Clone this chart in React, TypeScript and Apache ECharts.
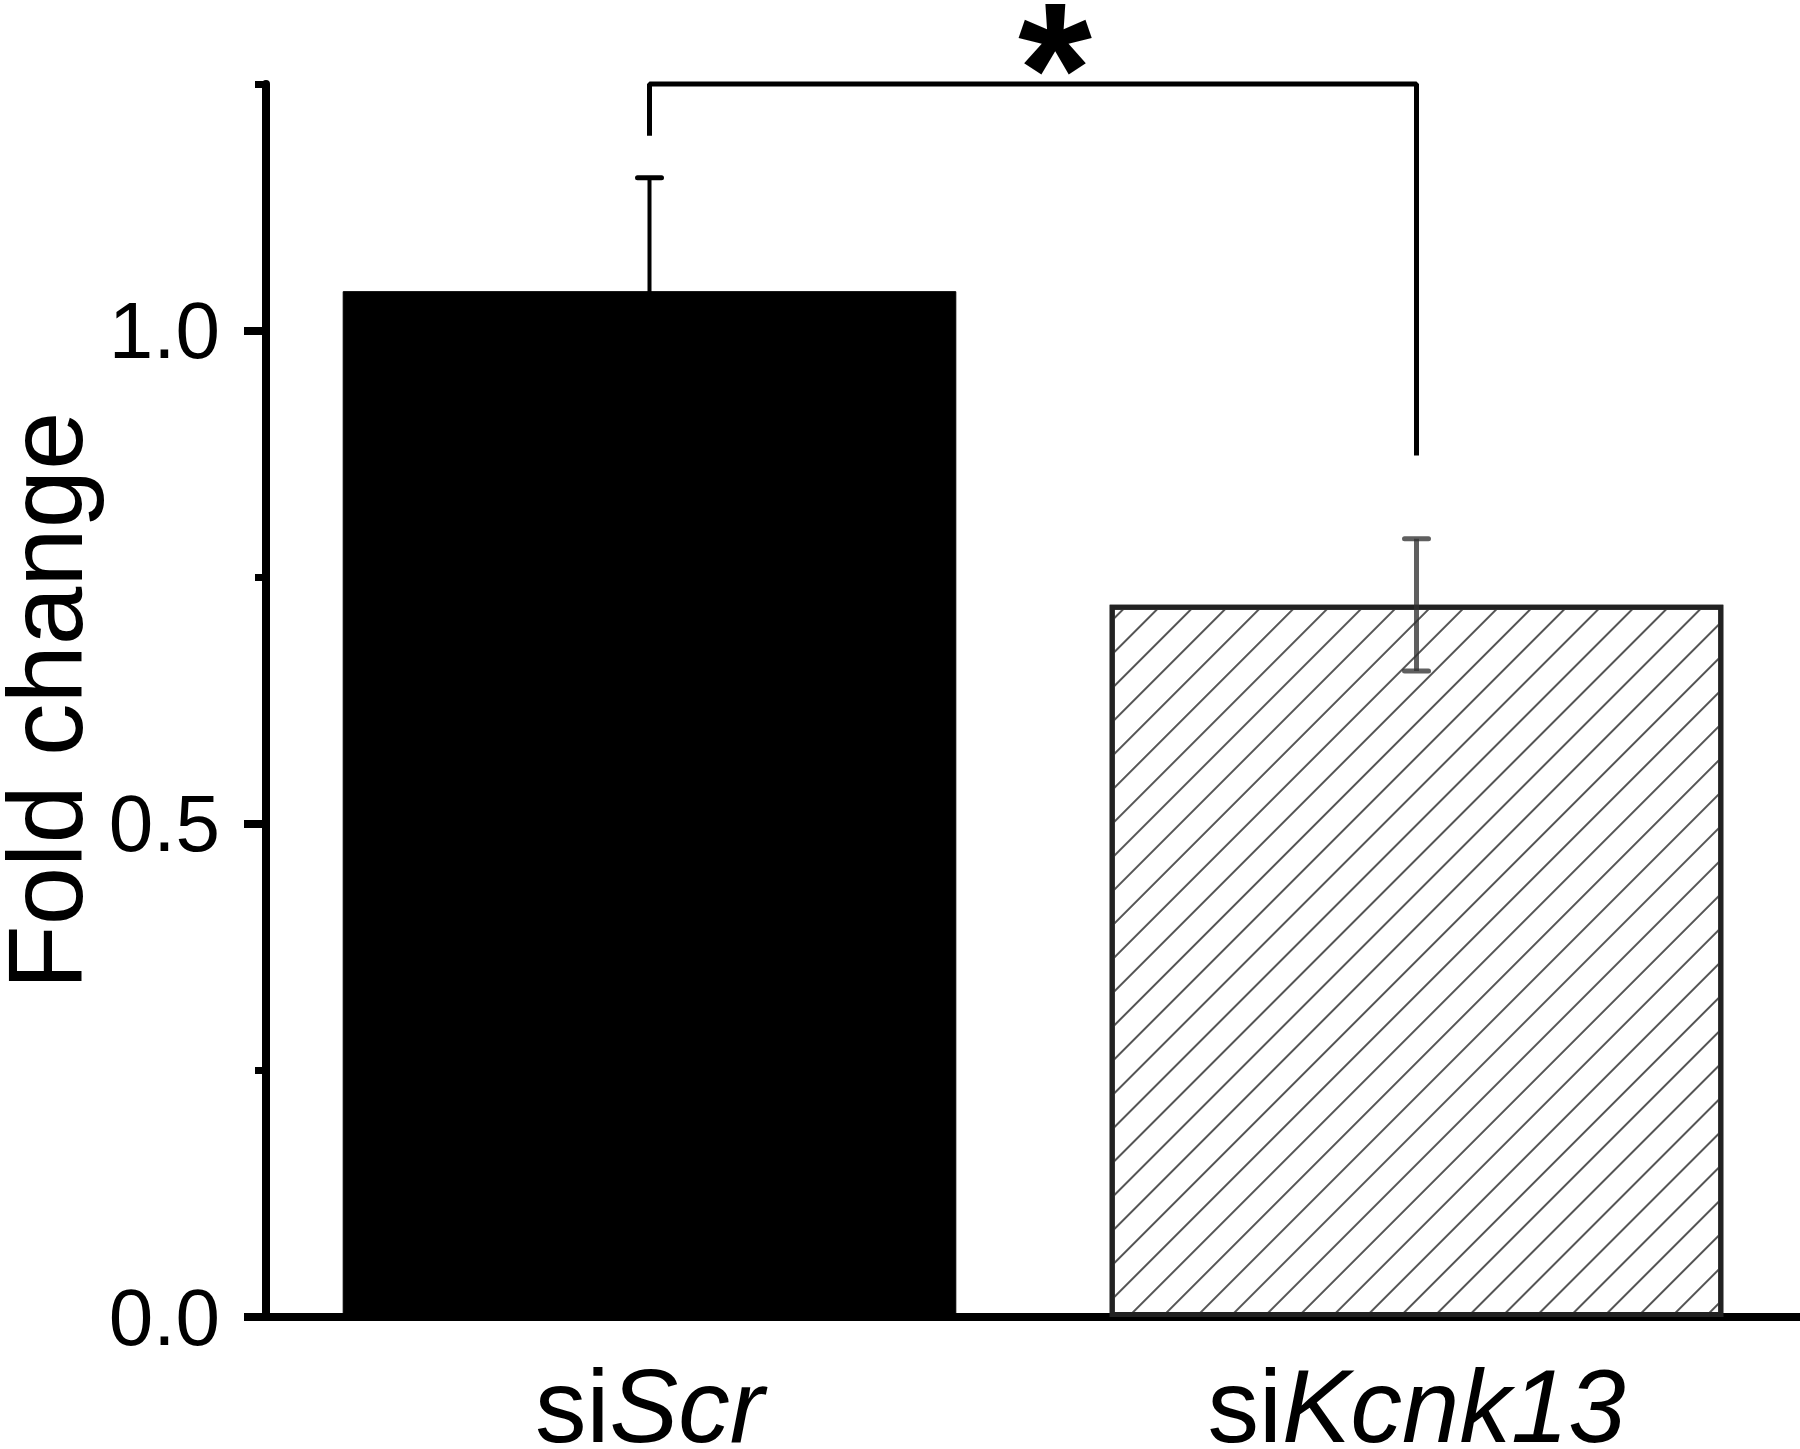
import React, { useEffect, useRef } from "react";
import * as echarts from "echarts";

// ---- data ----
const categories = ["siScr", "siKcnk13"];
const categoryPlain = ["si", "si"];
const categoryItalic = ["Scr", "Kcnk13"];
const means = [1.04, 0.722];
const errors = [0.115, 0.067];
const majorTicks = [0, 0.5, 1.0];
const minorTicks = [0.25, 0.75, 1.25];
const tickLabels = ["0.0", "0.5", "1.0"];
const bracketLeftBottom = 1.2;
const bracketTop = 1.25;
const bracketRightBottom = 0.876;
const significance = "*";
const yName = "Fold change";

const FONT = "'Liberation Sans', Arial, Helvetica, sans-serif";
const errorColors = ["#000000", "rgba(50,50,50,0.78)"];
const errorWidths = [4, 5];

export default function App() {
  const ref = useRef<HTMLDivElement>(null);

  useEffect(() => {
    document.body.style.margin = "0";
    if (!ref.current) return;
    const chart = echarts.init(ref.current, undefined, { renderer: "svg" });

    const option: any = {
      animation: false,
      backgroundColor: "#ffffff",
      grid: {
        left: 266,
        right: 0,
        top: 84,
        bottom: 132,
        containLabel: false,
        outerBoundsMode: "none",
      },
      xAxis: {
        type: "category",
        data: categories,
        axisLine: { show: true, lineStyle: { color: "#000", width: 8 } },
        axisTick: { show: false },
        axisLabel: {
          margin: 59,
          formatter: (_v: string, i: number) =>
            `{n|${categoryPlain[i]}}{i|${categoryItalic[i]}}`,
          rich: {
            n: { fontSize: 103, lineHeight: 60, fontFamily: FONT, color: "#000" },
            i: { fontSize: 103, lineHeight: 60, fontFamily: FONT, fontStyle: "italic", color: "#000" },
          },
        },
      },
      yAxis: [
        {
          type: "value",
          min: 0,
          max: 1.25,
          position: "left",
          axisLine: { show: true, onZero: false, lineStyle: { color: "#000", width: 8 } },
          axisTick: {
            show: true,
            customValues: majorTicks,
            length: 22,
            lineStyle: { color: "#000", width: 8 },
          },
          axisLabel: {
            customValues: majorTicks,
            formatter: (v: number) => {
              const k = majorTicks.findIndex((t) => Math.abs(t - v) < 1e-9);
              return k >= 0 ? tickLabels[k] : "";
            },
            fontSize: 80,
            fontFamily: FONT,
            color: "#000",
            margin: 46,
          },
          splitLine: { show: false },
          name: yName,
          nameLocation: "middle",
          nameGap: 172,
          nameTextStyle: { fontSize: 105, lineHeight: 84, fontFamily: FONT, color: "#000" },
        },
        {
          type: "value",
          min: 0,
          max: 1.25,
          position: "left",
          axisLine: { show: false, onZero: false },
          axisTick: {
            show: true,
            customValues: minorTicks,
            length: 11,
            lineStyle: { color: "#000", width: 7 },
          },
          axisLabel: { show: false },
          splitLine: { show: false },
        },
      ],
      series: [
        {
          type: "bar",
          barWidth: "80%",
          data: means.map((m, i) =>
            i === 0
              ? { value: m, itemStyle: { color: "#000", borderColor: "#000", borderWidth: 1 } }
              : {
                  value: m,
                  itemStyle: {
                    color: "#ffffff",
                    borderColor: "#222",
                    borderWidth: 5,
                    decal: {
                      symbol: "rect",
                      symbolSize: 1,
                      dashArrayX: [1, 0],
                      dashArrayY: [2, 22],
                      rotation: -Math.PI / 4,
                      color: "#555",
                      backgroundColor: "#ffffff",
                    },
                  },
                }
          ),
          z: 2,
        },
        {
          type: "custom",
          z: 5,
          data: means.map((m, i) => [i, m - errors[i], m + errors[i]]),
          renderItem: (params: any, api: any) => {
            const i = api.value(0);
            const lo = api.coord([i, api.value(1)]);
            const hi = api.coord([i, api.value(2)]);
            const color = errorColors[params.dataIndex];
            const w = errorWidths[params.dataIndex];
            const capHalf = 12;
            const style = { stroke: color, lineWidth: 5, lineCap: "round" };
            return {
              type: "group",
              children: [
                { type: "line", shape: { x1: hi[0], y1: hi[1], x2: lo[0], y2: lo[1] }, style: { stroke: color, lineWidth: w } },
                { type: "line", shape: { x1: hi[0] - capHalf, y1: hi[1], x2: hi[0] + capHalf, y2: hi[1] }, style },
                { type: "line", shape: { x1: lo[0] - capHalf, y1: lo[1], x2: lo[0] + capHalf, y2: lo[1] }, style },
              ],
            };
          },
        },
        {
          type: "line",
          z: 6,
          clip: false,
          symbol: "none",
          lineStyle: { color: "#000", width: 5, cap: "square" },
          data: [
            [0, bracketLeftBottom],
            [0, bracketTop],
            [1, bracketTop],
            [1, bracketRightBottom],
          ],
        },
      ],
    };

    chart.setOption(option);

    const pL = chart.convertToPixel({ xAxisIndex: 0, yAxisIndex: 0 }, [0, bracketTop]) as number[];
    const pR = chart.convertToPixel({ xAxisIndex: 0, yAxisIndex: 0 }, [1, bracketTop]) as number[];
    chart.setOption({
      graphic: [
        {
          type: "text",
          x: (pL[0] + pR[0]) / 2 + 22,
          y: pL[1] - 76,
          z: 10,
          style: {
            text: significance,
            fontSize: 190,
            lineHeight: 120,
            fontWeight: "bold",
            fontFamily: FONT,
            fill: "#000",
            textAlign: "center",
            textVerticalAlign: "top",
          },
        },
      ],
    });

    return () => chart.dispose();
  }, []);

  return <div ref={ref} style={{ width: 1800, height: 1449 }} />;
}
